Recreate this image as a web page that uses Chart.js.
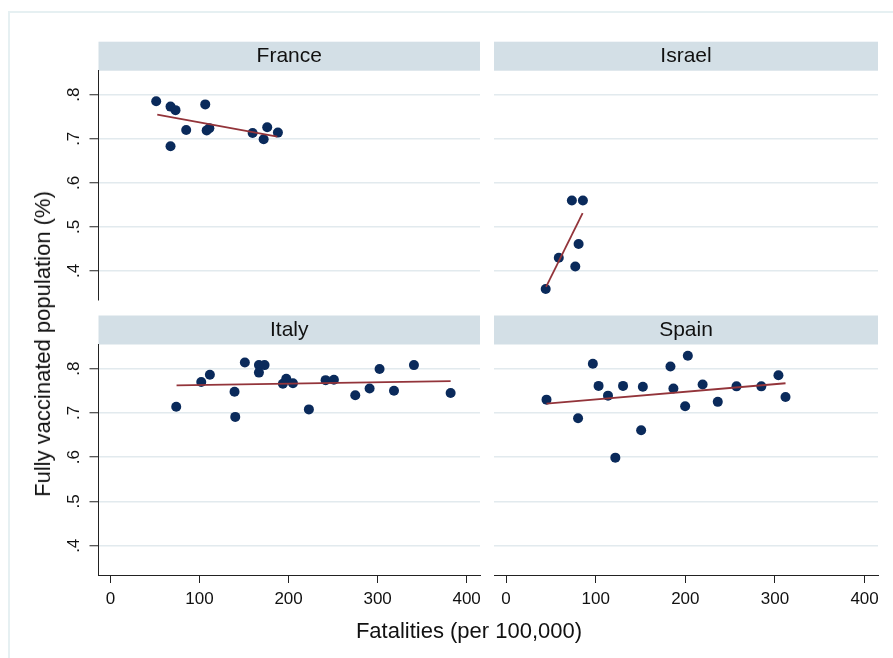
<!DOCTYPE html>
<html><head><meta charset="utf-8">
<script src="https://cdn.jsdelivr.net/npm/chart.js@4.4.1/dist/chart.umd.min.js"></script>
<style>
html,body{margin:0;padding:0;background:#fff;width:893px;height:658px;overflow:hidden;font-family:"Liberation Sans",Arial,sans-serif;}
#frame{position:absolute;left:8px;top:11px;width:900px;height:700px;border:2px solid #e6f0f2;box-sizing:border-box;}
canvas{position:absolute;left:0;top:0;}
.axt{position:absolute;color:#111;white-space:nowrap;font-size:22px;line-height:1;}
</style></head><body>
<div id="frame"></div>
<canvas id="c0" width="893" height="658"></canvas>
<canvas id="c1" width="893" height="658"></canvas>
<canvas id="c2" width="893" height="658"></canvas>
<canvas id="c3" width="893" height="658"></canvas>
<div class="axt" style="left:469px;top:631px;transform:translate(-50%,-50%)">Fatalities (per 100,000)</div>
<div class="axt" style="left:43px;top:344px;transform:translate(-50%,-50%) rotate(-90deg)">Fully vaccinated population (%)</div>
<script>
const countries = ['France', 'Israel', 'Italy', 'Spain'];

const franceX = [51.3, 67.4, 73, 106.4, 85, 67.4, 108, 111, 159.6, 176, 172, 188];
const franceY = [0.785, 0.773, 0.765, 0.778, 0.720, 0.683, 0.719, 0.724, 0.713, 0.726, 0.699, 0.714];
const franceFitX = [52.5, 187.3];
const franceFitY = [0.755, 0.705];

const israelX = [73.4, 85.7, 80.9, 58.8, 77.2, 44.2];
const israelY = [0.560, 0.560, 0.461, 0.430, 0.410, 0.359];
const israelFitX = [44.6, 85.4];
const israelFitY = [0.364, 0.531];

const italyX = [73.8, 101.9, 111.6, 139.3, 140.1, 150.9, 166.7, 173, 166.7, 193.6, 197.4, 204.9, 222.8, 241.6, 250.9, 274.9, 291, 302.2, 318.4, 340.8, 382];
const italyY = [0.714, 0.770, 0.786, 0.748, 0.691, 0.814, 0.808, 0.808, 0.791, 0.766, 0.777, 0.767, 0.708, 0.774, 0.775, 0.740, 0.755, 0.799, 0.750, 0.808, 0.745];
const italyFitX = [74.2, 382];
const italyFitY = [0.762, 0.772];

const spainX = [45.1, 80.3, 96.8, 103.2, 113.7, 121.9, 130.5, 150.7, 152.6, 183.4, 186.7, 199.8, 202.8, 219.3, 236.2, 257.1, 284.8, 303.9, 311.8];
const spainY = [0.730, 0.688, 0.811, 0.761, 0.739, 0.599, 0.761, 0.661, 0.759, 0.805, 0.755, 0.715, 0.829, 0.764, 0.725, 0.760, 0.760, 0.785, 0.736];
const spainFitX = [45.1, 311.8];
const spainFitY = [0.721, 0.767];

const xTicks = [0, 100, 200, 300, 400];
const xTickLabels = ['0', '100', '200', '300', '400'];
const yTicks = [0.4, 0.5, 0.6, 0.7, 0.8];
const yTickLabels = ['.4', '.5', '.6', '.7', '.8'];

Chart.defaults.font.family = '"Liberation Sans", Arial, sans-serif';
Chart.defaults.color = '#111';

const NAVY = '#0a2a5b', MAROON = '#93343a', GRID = '#e2eaee', STRIP = '#d3dfe6', AXIS = '#222';
const STRIP_TOP = [41.7, 315.5], PLOT_BOTTOM = [300, 575];
const COL_LEFT = [98.5, 494], COL_RIGHT = [480, 878];
const YAXIS_W = 40, XAXIS_H = 32;

const panels = [
  {name: countries[0], xs: franceX, ys: franceY, fx: franceFitX, fy: franceFitY, row: 0, col: 0},
  {name: countries[1], xs: israelX, ys: israelY, fx: israelFitX, fy: israelFitY, row: 0, col: 1},
  {name: countries[2], xs: italyX, ys: italyY, fx: italyFitX, fy: italyFitY, row: 1, col: 0},
  {name: countries[3], xs: spainX, ys: spainY, fx: spainFitX, fy: spainFitY, row: 1, col: 1}
];

const stripPlugin = {
  id: 'strip',
  beforeDraw(chart) {
    const t = chart.titleBlock, a = chart.chartArea, ctx = chart.ctx;
    ctx.save();
    ctx.fillStyle = STRIP;
    ctx.fillRect(a.left, t.top, a.right - a.left, a.top - t.top);
    ctx.restore();
  }
};

panels.forEach((p, i) => {
  const showY = p.col === 0, showX = p.row === 1;
  const pts = p.xs.map((x, k) => ({x: x, y: p.ys[k]}));
  const fit = p.fx.map((x, k) => ({x: x, y: p.fy[k]}));
  new Chart(document.getElementById('c' + i), {
    type: 'scatter',
    data: {datasets: [
      {data: pts, pointRadius: 5, pointBackgroundColor: NAVY, pointBorderWidth: 0, order: 1},
      {data: fit, showLine: true, borderColor: MAROON, borderWidth: 1.8, pointRadius: 0, order: 0}
    ]},
    plugins: [stripPlugin],
    options: {
      responsive: false, animation: false, devicePixelRatio: 1,
      layout: {padding: {
        left: COL_LEFT[p.col] - (showY ? YAXIS_W : 0),
        right: 893 - COL_RIGHT[p.col],
        top: STRIP_TOP[p.row],
        bottom: 658 - PLOT_BOTTOM[p.row] - (showX ? XAXIS_H : 0)
      }},
      plugins: {
        legend: {display: false}, tooltip: {enabled: false},
        title: {display: true, text: p.name, fullSize: false, color: '#111',
          font: {size: 21, weight: 'normal', lineHeight: 1.2}, padding: {top: 2, bottom: 1.8}}
      },
      scales: {
        x: {
          type: 'linear', min: -13.5, max: 415, display: showX,
          afterBuildTicks: s => { s.ticks = xTicks.map(v => ({value: v})); },
          afterFit: s => { s.height = showX ? XAXIS_H : 0; },
          grid: {drawOnChartArea: false, drawTicks: true, tickLength: 8, tickColor: AXIS, tickWidth: 1},
          border: {display: true, color: AXIS, width: 1},
          ticks: {font: {size: 17}, color: '#111', padding: 6, maxRotation: 0, minRotation: 0,
            callback: v => xTickLabels[xTicks.indexOf(v)]}
        },
        y: {
          type: 'linear', min: 0.334, max: 0.8545, display: true,
          afterBuildTicks: s => { s.ticks = yTicks.map(v => ({value: v})); },
          afterFit: s => { s.width = showY ? YAXIS_W : 0; },
          grid: {color: GRID, lineWidth: 1.5, drawTicks: showY, tickLength: 9, tickColor: AXIS, tickWidth: 1},
          border: {display: showY, color: AXIS, width: 1},
          ticks: {display: showY, font: {size: 17}, color: '#111', padding: 8, minRotation: 90, maxRotation: 90,
            crossAlign: 'center', callback: v => yTickLabels[yTicks.findIndex(t => Math.abs(t - v) < 1e-9)]}
        }
      }
    }
  });
});
</script>
</body></html>
